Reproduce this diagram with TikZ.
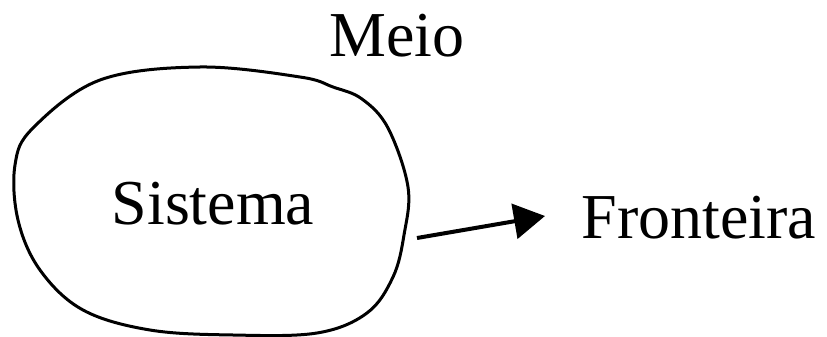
\documentclass[tikz,border=0pt]{standalone}
\usepackage{fontspec}
\setmainfont{Liberation Serif}
\usetikzlibrary{arrows.meta}
\begin{document}
\begin{tikzpicture}[x=1pt,y=-1pt,
  lbl/.style={font=\fontsize{64}{72}\selectfont, anchor=base, inner sep=0pt},
  blob/.style={line width=3pt, line join=round},
  conn/.style={line width=4pt, -{Triangle[length=31pt,width=35pt]}}]
\useasboundingbox (0,0) rectangle (827,337);
\draw[blob] plot[smooth cycle, tension=0.6] coordinates {
  (15,165) (33,128) (100,80) (200,67) (300,77) (333,87) (362,99)
  (388,128) (408,187) (404,235) (393,277) (367,313) (317,333)
  (233,335) (150,330) (83,310) (40,270) (18,220)};
\node[lbl] (meio) at (397,57) {Meio};
\node[lbl] (sis) at (213,224) {Sistema};
\node[lbl] (fr) at (699,238) {Fronteira};
\coordinate (s) at (417,238);
\coordinate (e) at (545,216);
\draw[conn] (s) -- (e);
\end{tikzpicture}
\end{document}
